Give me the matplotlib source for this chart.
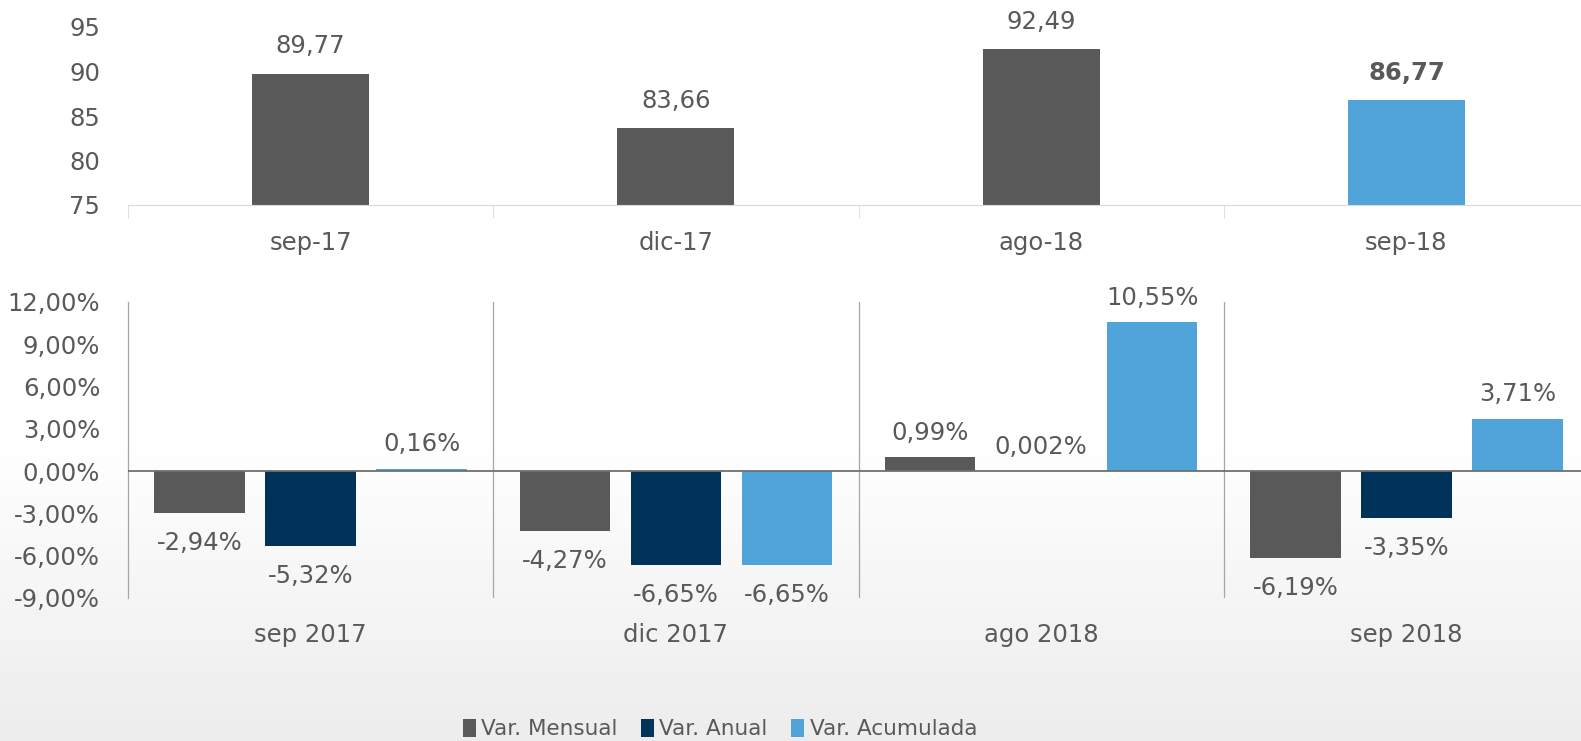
import matplotlib.pyplot as plt
import numpy as np

# datos
meses_top = ['sep-17', 'dic-17', 'ago-18', 'sep-18']
valores_top = [89.77, 83.66, 92.49, 86.77]

meses_bot = ['sep 2017', 'dic 2017', 'ago 2018', 'sep 2018']
var_mensual = [-2.94, -4.27, 0.99, -6.19]
var_anual = [-5.32, -6.65, 0.002, -3.35]
var_acumulada = [0.16, -6.65, 10.55, 3.71]
etq_anual = ['-5,32%', '-6,65%', '0,002%', '-3,35%']

series = ['Var. Mensual', 'Var. Anual', 'Var. Acumulada']
gris = '#595959'
azul = '#003359'
celeste = '#51A4D9'
texto = '#595959'

plt.rcParams['font.family'] = ['DejaVu Sans']
plt.rcParams['text.color'] = texto

W, H = 1581, 741
fig = plt.figure(figsize=(W / 100, H / 100), dpi=100)


def caja(x0, y_top, ancho, y_bot):
    # posiciones en pixeles -> fracción de figura
    return [x0 / W, 1 - y_bot / H, ancho / W, (y_bot - y_top) / H]


# fondo claro con degradado
bg = fig.add_axes([0, 0, 1, 1], zorder=-10)
grad = np.ones((H, 1))
yy = np.arange(H)
grad[:, 0] = np.clip(1 - (yy - 430) / (H - 430) * 0.075, 0.925, 1.0)
bg.imshow(grad, aspect='auto', cmap='gray', vmin=0, vmax=1, extent=[0, 1, 0, 1])
bg.axis('off')

fs = 17.5

# gráfico superior
ax1 = fig.add_axes(caja(128, 27, 1461, 205))
ax1.patch.set_alpha(0)
x = np.arange(len(meses_top))
colores = [gris, gris, gris, celeste]
ax1.bar(x, [v - 75 for v in valores_top], bottom=75, width=0.32, color=colores)
for i, v in enumerate(valores_top):
    ax1.annotate(f'{v:.2f}'.replace('.', ','), (i, v), xytext=(0, 11),
                 textcoords='offset points', ha='center', va='bottom',
                 fontsize=fs, color=texto,
                 fontweight='bold' if i == 3 else 'normal')
ax1.set_xlim(-0.5, 3.5)
ax1.set_ylim(75, 95)
ax1.set_yticks([75, 80, 85, 90, 95])
ax1.set_xticks(x)
ax1.set_xticklabels(meses_top)
ax1.set_xticks([-0.5, 0.5, 1.5, 2.5, 3.5], minor=True)
ax1.tick_params(axis='x', which='major', length=0, pad=19, labelsize=fs, labelcolor=texto)
ax1.tick_params(axis='x', which='minor', length=9, color='#d9d9d9')
ax1.tick_params(axis='y', length=0, pad=20, labelsize=fs, labelcolor=texto)
for s in ['top', 'right', 'left']:
    ax1.spines[s].set_visible(False)
ax1.spines['bottom'].set_color('#d9d9d9')

# gráfico inferior
ax2 = fig.add_axes(caja(128, 302, 1461, 598))
ax2.patch.set_alpha(0)
ancho = 0.248
paso = 0.304
datos = [var_mensual, var_anual, var_acumulada]
cols = [gris, azul, celeste]
for k, (serie, col, nombre) in enumerate(zip(datos, cols, series)):
    pos = x + (k - 1) * paso
    ax2.bar(pos, serie, width=ancho, color=col, label=nombre, zorder=2)
    for i, v in enumerate(serie):
        if k == 1:
            txt = etq_anual[i]
        else:
            txt = f'{v:.2f}%'.replace('.', ',')
        off = 9 if v >= 0 else -13
        ax2.annotate(txt, (pos[i], v), xytext=(0, off), textcoords='offset points',
                     ha='center', va='bottom' if v >= 0 else 'top',
                     fontsize=fs, color=texto, zorder=3)
ax2.axhline(0, color='#707070', lw=1.3, zorder=3)
for b in [0.5, 1.5, 2.5]:
    ax2.axvline(b, color='#a6a6a6', lw=0.9, zorder=1)
ax2.set_xlim(-0.5, 3.5)
ax2.set_ylim(-9, 12)
ax2.set_yticks(np.arange(-9, 13, 3))
ax2.set_yticklabels([f'{t:.2f}%'.replace('.', ',') for t in np.arange(-9, 13, 3)])
ax2.set_xticks(x)
ax2.set_xticklabels(meses_bot)
ax2.tick_params(axis='x', length=0, pad=18, labelsize=fs, labelcolor=texto)
ax2.tick_params(axis='y', length=0, pad=20, labelsize=fs, labelcolor=texto)
for s in ['top', 'right', 'bottom']:
    ax2.spines[s].set_visible(False)
ax2.spines['left'].set_color('#a6a6a6')
ax2.spines['left'].set_linewidth(0.9)

fig.legend(loc='center', bbox_to_anchor=(720 / W, 1 - 729 / H), ncol=3, frameon=False,
           fontsize=15.5, handlelength=0.6, handleheight=0.9, handletextpad=0.25,
           columnspacing=1.1, labelcolor=texto)

fig.savefig('out.png', dpi=100)
